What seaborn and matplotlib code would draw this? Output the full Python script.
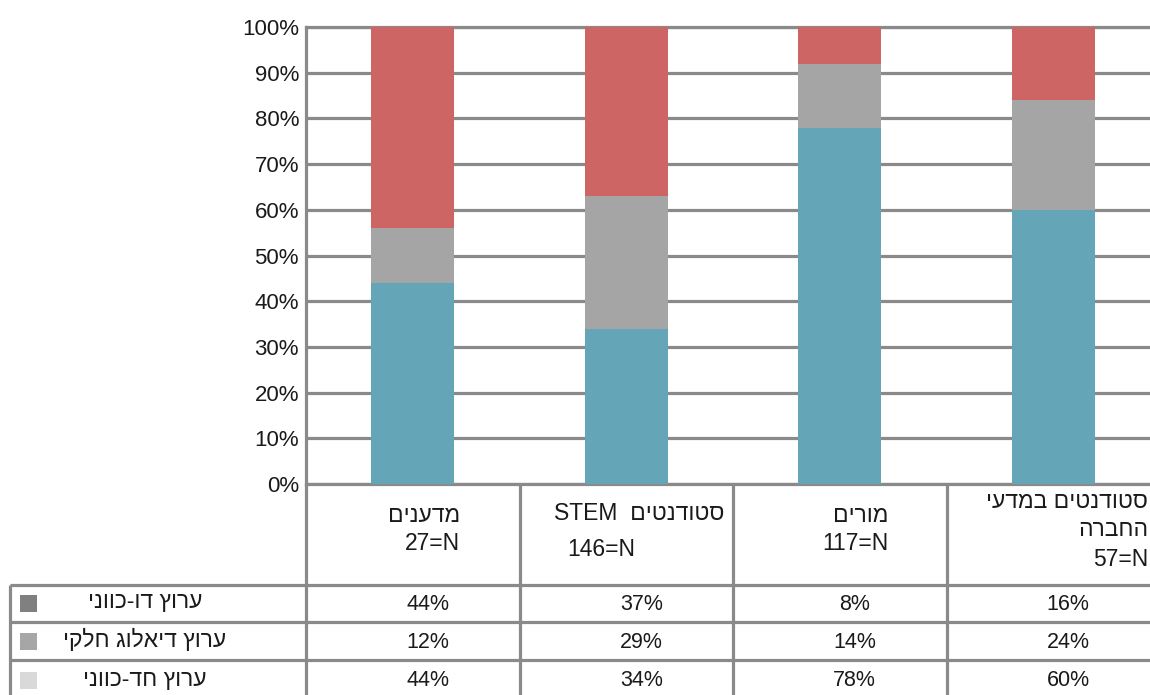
import re
import numpy as np
import pandas as pd
import matplotlib
matplotlib.use("Agg")
import matplotlib.pyplot as plt
import matplotlib.patches as mpatches
import seaborn as sns

# --- data -------------------------------------------------------------
groups = ["מדענים", "סטודנטים  STEM", "מורים", "סטודנטים במדעי\nהחברה"]
group_n = [27, 146, 117, 57]
series = ["ערוץ דו-כווני", "ערוץ דיאלוג חלקי", "ערוץ חד-כווני"]
two_way = [44, 37, 8, 16]
partial = [12, 29, 14, 24]
one_way = [44, 34, 78, 60]
yticks = [0, 10, 20, 30, 40, 50, 60, 70, 80, 90, 100]

# --- style ------------------------------------------------------------
sns.set_style("white")
plt.rcParams["font.family"] = ["Liberation Sans", "DejaVu Sans"]

RED = "#cd6565"
GREY = "#a5a5a5"
BLUE = "#64a6b8"
LINE = "#8a8a8a"
TXT = "#1a1a1a"
LEGEND_SWATCH = ["#808080", "#a6a6a6", "#d9d9d9"]
LW = 2.3


def visual(s):
    """Right-to-left display order: reverse, then restore Latin/digit runs."""
    r = s[::-1]
    return re.sub(r"[A-Za-z0-9]+", lambda m: m.group(0)[::-1], r)


W, H = 1150, 695
fig = plt.figure(figsize=(W / 100, H / 100), dpi=100)

# plot area (extends slightly past the right edge)
X0, X1, Y100, Y0 = 306, 1160, 27, 484
ax = fig.add_axes([X0 / W, 1 - Y0 / H, (X1 - X0) / W, (Y0 - Y100) / H])

df = pd.DataFrame({
    "group": groups,
    "two_way": two_way,
    "partial": partial,
    "one_way": one_way,
})
df["top"] = df["one_way"] + df["partial"] + df["two_way"]
df["mid"] = df["one_way"] + df["partial"]

# stacked columns: draw cumulative heights, tallest first
for col, colr in [("top", RED), ("mid", GREY), ("one_way", BLUE)]:
    sns.barplot(data=df, x="group", y=col, color=colr, width=0.39,
                saturation=1, errorbar=None, ax=ax, zorder=3, linewidth=0)

ax.set_xlim(-0.5, 3.5)
ax.set_ylim(0, 100)
ax.set_yticks(yticks)
ax.set_yticklabels([f"{t}%" for t in yticks])
ax.set_xlabel("")
ax.set_ylabel("")
ax.tick_params(axis="x", length=0, labelbottom=False)
ax.tick_params(axis="y", length=6, width=LW, color=LINE, labelsize=16,
               pad=-1, labelcolor=TXT)
ax.yaxis.grid(True, color=LINE, linewidth=LW)
ax.set_axisbelow(True)
for side in ["top", "bottom", "left"]:
    ax.spines[side].set_color(LINE)
    ax.spines[side].set_linewidth(LW)
ax.spines["right"].set_visible(False)

# --- table beneath the columns ---------------------------------------
ov = fig.add_axes([0, 0, 1, 1], zorder=5)
ov.set_xlim(0, W)
ov.set_ylim(H, 0)
ov.axis("off")

col_w = (X1 - X0) / len(groups)
row_lines = [585, 622, 660]
for y in row_lines:
    ov.plot([10, X1], [y, y], color=LINE, lw=LW, solid_capstyle="butt")
ov.plot([10, 10], [row_lines[0], H + 5], color=LINE, lw=LW, solid_capstyle="butt")
ov.plot([X0, X0], [Y0, H + 5], color=LINE, lw=LW, solid_capstyle="butt")
for i in range(1, len(groups)):
    x = X0 + col_w * i
    ov.plot([x, x], [Y0, H + 5], color=LINE, lw=LW, solid_capstyle="butt")

# column headers: group name lines plus sample size
header_pos = [
    [(460, 515, "right"), (460, 544, "right")],
    [(724, 513, "right"), (567, 549, "left")],
    [(888, 515, "right"), (888, 544, "right")],
    [(1148, 502, "right"), (1148, 530, "right"), (1148, 560, "right")],
]
for name, n, pos in zip(groups, group_n, header_pos):
    lines = name.split("\n") + [f"N={n}"]
    for text, (x, y, ha) in zip(lines, pos):
        ov.text(x, y, visual(text), ha=ha, va="center", fontsize=16.5,
                color=TXT)

# value rows with legend swatches
row_y = [604, 642, 681]
for k, (label, vals, sw) in enumerate(zip(series, [two_way, partial, one_way],
                                          LEGEND_SWATCH)):
    y = row_y[k]
    ov.add_patch(mpatches.Rectangle((20, y - 9), 17, 17, color=sw, lw=0))
    ov.text(145, y - 2, visual(label), ha="center", va="center",
            fontsize=16.5, color=TXT)
    for i, v in enumerate(vals):
        ov.text(X0 + col_w * (i + 0.5) + 15, y, f"{v}%", ha="center",
                va="center", fontsize=15.5, color=TXT)

fig.savefig("out.png", dpi=100)
